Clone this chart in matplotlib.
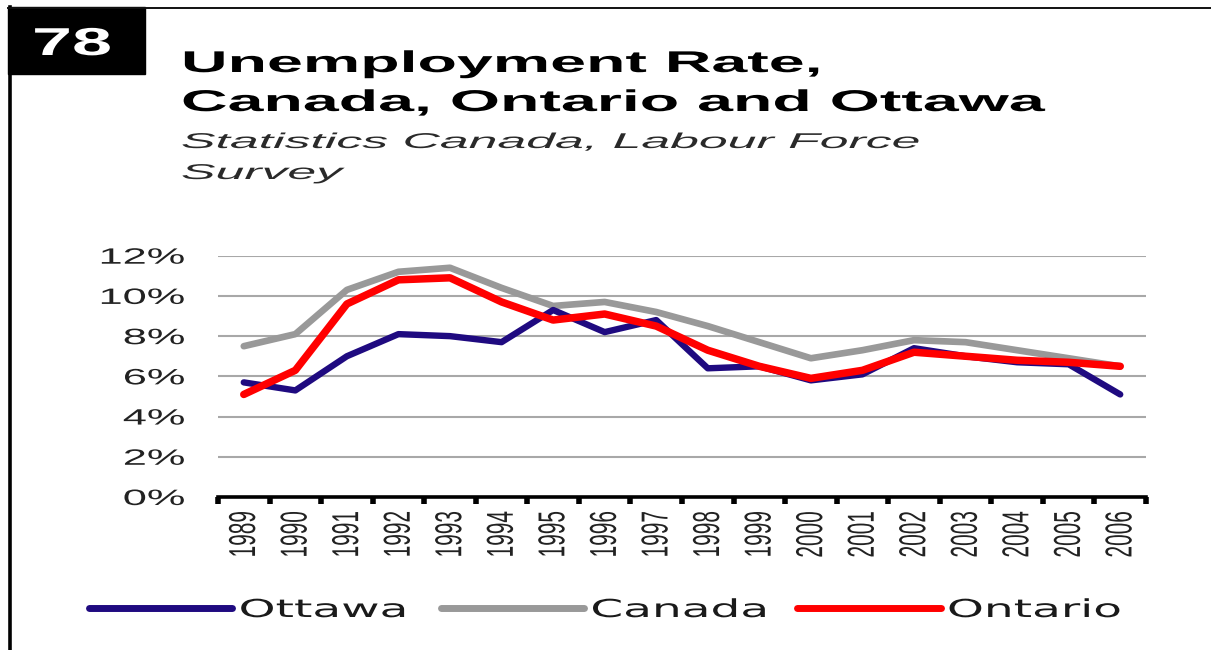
import numpy as np
import matplotlib
matplotlib.use("Agg")
import matplotlib.pyplot as plt
from matplotlib.patheffects import AbstractPathEffect
from matplotlib.transforms import Affine2D
from matplotlib.patches import Rectangle
from matplotlib.lines import Line2D

# ---------------- data ----------------
years = ["1989", "1990", "1991", "1992", "1993", "1994", "1995", "1996", "1997",
         "1998", "1999", "2000", "2001", "2002", "2003", "2004", "2005", "2006"]
ottawa = [5.7, 5.3, 7.0, 8.1, 8.0, 7.7, 9.3, 8.2, 8.8,
          6.4, 6.5, 5.8, 6.1, 7.4, 7.0, 6.7, 6.6, 5.1]
canada = [7.5, 8.1, 10.3, 11.2, 11.4, 10.4, 9.5, 9.7, 9.2,
          8.5, 7.7, 6.9, 7.3, 7.8, 7.7, 7.3, 6.9, 6.5]
ontario = [5.1, 6.3, 9.6, 10.8, 10.9, 9.7, 8.8, 9.1, 8.5,
           7.3, 6.5, 5.9, 6.3, 7.2, 7.0, 6.8, 6.7, 6.5]
yticks = [0, 2, 4, 6, 8, 10, 12]
ytick_labels = ["0%", "2%", "4%", "6%", "8%", "10%", "12%"]
series_labels = ["Ottawa", "Canada", "Ontario"]
title_lines = ["Unemployment Rate,", "Canada, Ontario and Ottawa"]
subtitle_lines = ["Statistics Canada, Labour Force", "Survey"]
badge = "78"

# ---------------- helpers ----------------
W, H = 1211, 650


def fx(px):
    return px / W


def fy(py):
    return 1 - py / H


class Stretch(AbstractPathEffect):
    """Draw text glyphs stretched (the reference image is horizontally stretched)."""

    def __init__(self, sx=1.0, sy=1.0, anchor="left"):
        super().__init__()
        self.sx, self.sy, self.anchor = sx, sy, anchor

    def draw_path(self, renderer, gc, tpath, affine, rgbFace=None):
        if len(tpath.vertices) == 0:
            return
        ext = tpath.get_extents()
        if self.anchor == "right":
            ax_ = ext.x1
        elif self.anchor == "center":
            ax_ = 0.5 * (ext.x0 + ext.x1)
        else:
            ax_ = 0.0
        ay_ = 0.5 * (ext.y0 + ext.y1)
        pre = Affine2D().translate(-ax_, -ay_).scale(self.sx, self.sy).translate(ax_, ay_)
        renderer.draw_path(gc, tpath, pre + affine, rgbFace)


# ---------------- figure ----------------
fig = plt.figure(figsize=(W / 100, H / 100), dpi=100)
fig.patch.set_facecolor("white")

ax = fig.add_axes([fx(218), fy(497), fx(1146) - fx(218), fy(255.7) - fy(497)])
x = np.arange(len(years))

line_kw = dict(solid_joinstyle="round", solid_capstyle="round")
l_can, = ax.plot(x, canada, color="#999999", lw=4.8, zorder=3, **line_kw)
l_ott, = ax.plot(x, ottawa, color="#1f0a80", lw=4.6, zorder=4, **line_kw)
l_ont, = ax.plot(x, ontario, color="#ff0000", lw=5.4, zorder=5, **line_kw)

ax.set_xlim(-0.5, len(years) - 0.5)
ax.set_ylim(0, 12)

for s in ("left", "right", "top"):
    ax.spines[s].set_visible(False)
ax.spines["bottom"].set_color("black")
ax.spines["bottom"].set_linewidth(2.6)
ax.spines["bottom"].set_zorder(6)

ax.set_yticks(yticks, ytick_labels, family="Liberation Sans", fontsize=16, color="#222222")
ax.tick_params(axis="y", length=0, pad=24)
ax.yaxis.grid(True, color="#a8a8a8", lw=1.5)
ax.set_axisbelow(True)

ax.set_xticks(x, years, rotation=90, family="Liberation Sans", fontsize=15, color="#222222")
ax.set_xticks(np.arange(-0.5, len(years)), minor=True)
ax.tick_params(axis="x", which="major", length=0, pad=10)
ax.tick_params(axis="x", which="minor", length=5, width=4, direction="out", color="black")

# ---------------- legend ----------------
leg = fig.legend([l_ott, l_can, l_ont], series_labels, loc="center left",
                 bbox_to_anchor=(fx(89), fy(610)), ncol=3, frameon=False,
                 prop={"family": "DejaVu Sans", "size": 17.8},
                 handlelength=5.8, handletextpad=0.25, columnspacing=4.55,
                 borderpad=0, borderaxespad=0)
for t in leg.get_texts():
    t.set_color("#1a1a1a")
    t.set_path_effects([Stretch(1.9, 1.0, "left")])
for h in leg.legend_handles:
    h.set_linewidth(5.0)
    h.set_solid_capstyle("round")

# ---------------- frame, badge, titles ----------------
fig.add_artist(Line2D([fx(10), fx(10)], [fy(7), 0], transform=fig.transFigure,
                      color="black", lw=2.6))
fig.add_artist(Line2D([fx(8), 1], [fy(7.5), fy(7.5)], transform=fig.transFigure,
                      color="#111111", lw=1.4))
fig.add_artist(Rectangle((fx(8), fy(74)), fx(145) - fx(8), fy(7) - fy(74),
                         transform=fig.transFigure, color="black"))
fig.text(fx(32), fy(55), badge, color="white", fontsize=28, weight="bold",
         family="Liberation Sans", va="baseline", ha="left",
         path_effects=[Stretch(1.85)])

for txt, base in zip(title_lines, [72, 111]):
    fig.text(fx(181), fy(base), txt, color="black", fontsize=21.6, weight="bold",
             family="Liberation Sans", va="baseline", ha="left",
             path_effects=[Stretch(2.15)])
for txt, base in zip(subtitle_lines, [148, 179]):
    fig.text(fx(181), fy(base), txt, color="#2a2a2a", fontsize=15.4, style="italic",
             family="Liberation Sans", va="baseline", ha="left",
             path_effects=[Stretch(2.42)])

# apply the stretch to tick labels once the ticks exist
fig.canvas.draw()
for lbl in ax.get_yticklabels():
    lbl.set_path_effects([Stretch(1.95, 1.0, "right")])
for lbl in ax.get_xticklabels():
    lbl.set_path_effects([Stretch(1.0, 1.8, "center")])

fig.savefig("out.png", dpi=100)
